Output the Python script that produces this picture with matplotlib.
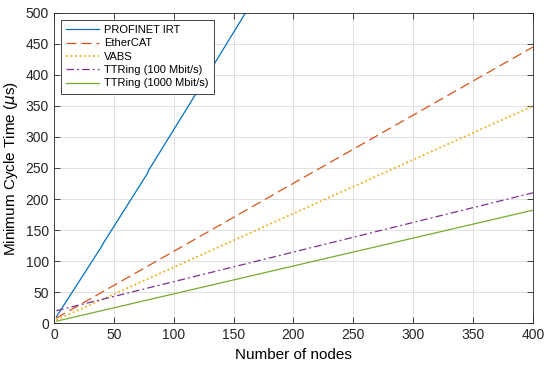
import numpy as np
import matplotlib
matplotlib.use("Agg")
import matplotlib.pyplot as plt

plt.rcParams['font.family'] = ['Liberation Sans', 'DejaVu Sans']

# data
nodes_irt = [2, 40, 41, 78, 79, 120, 160]
cycle_irt = [10, 124, 128, 241, 246, 374, 500]
nodes = [2, 400]
cycle_ethercat = [8, 445]
cycle_vabs = [5, 350]
cycle_ttring100 = [20, 210]
cycle_ttring1000 = [3, 182]

fig = plt.figure(figsize=(5.5, 3.68), dpi=100)
ax = fig.add_axes([0.098, 0.122, 0.871, 0.843])

ax.plot(nodes_irt, cycle_irt, color='#0072BD', lw=0.9, label='PROFINET IRT')
ax.plot(nodes, cycle_ethercat, color='#D95319', lw=0.9, dashes=(8, 4), label='EtherCAT')
ax.plot(nodes, cycle_vabs, color='#EDB120', lw=1.3, linestyle=(0, (1, 1.5)), label='VABS')
ax.plot(nodes, cycle_ttring100, color='#7E2F8E', lw=0.9, dashes=(6, 2.5, 1.5, 2.5), label='TTRing (100 Mbit/s)')
ax.plot(nodes, cycle_ttring1000, color='#77AC30', lw=0.9, label='TTRing (1000 Mbit/s)')

ax.set_xlim(0, 400)
ax.set_ylim(0, 500)
ax.set_xticks(np.arange(0, 401, 50))
ax.set_yticks(np.arange(0, 501, 50))
ax.grid(True, color='#dcdcdc', lw=0.6)
ax.set_axisbelow(True)
ax.tick_params(direction='in', top=True, right=True, labelsize=10, length=4, width=0.6, colors='#262626')
for s in ax.spines.values():
    s.set_color('#262626')
    s.set_linewidth(0.6)

ax.set_xlabel('Number of nodes', fontsize=11)
ax.set_ylabel(r'Minimum Cycle Time ($\mu$s)', fontsize=11)

leg = ax.legend(loc='upper left', fontsize=8, fancybox=False, framealpha=1,
                edgecolor='#262626', handlelength=3.0, borderpad=0.5,
                labelspacing=0.3, handletextpad=0.4, borderaxespad=0.6)
leg.get_frame().set_linewidth(0.6)

fig.savefig('out.png', dpi=100)
